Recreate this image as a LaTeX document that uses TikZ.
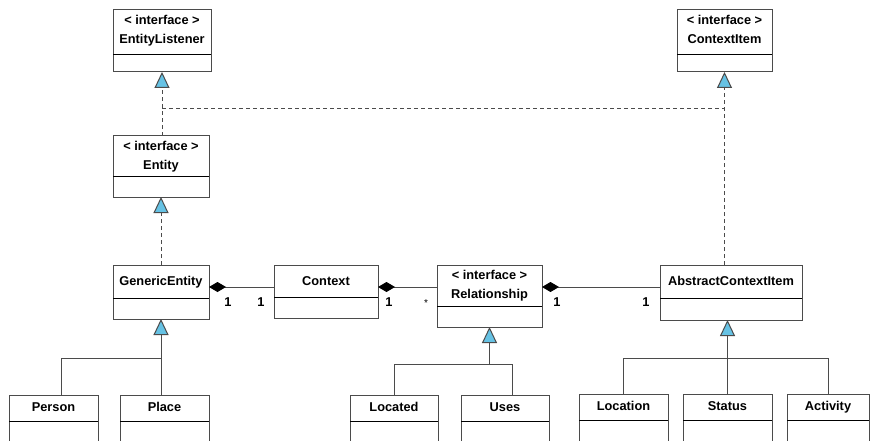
\documentclass[tikz,border=0pt]{standalone}
\usepackage{fontspec}
\setmainfont{Liberation Sans}
\usetikzlibrary{arrows.meta}
\definecolor{triblue}{RGB}{102,194,228}
\definecolor{lc}{RGB}{75,75,75}
\newcommand\mkclass[6]{% name, x1, y1, x2, y2, divider y
  \node[box, minimum width={#4-#2}, minimum height={#5-#3}] (#1) at (#2,#3) {};
  \draw[div] (#2,#6) -- (#4,#6);
}
\begin{document}
\begin{tikzpicture}[x=1pt,y=-1pt,
  box/.style={draw=lc, line width=1pt, rectangle, anchor=north west, inner sep=0pt, outer sep=0pt},
  div/.style={draw=black, line width=0.8pt},
  lbl/.style={font=\fontsize{12.8}{14}\selectfont\bfseries, inner sep=0pt, text height=9.5pt, text depth=3pt},
  conn/.style={draw=lc, line width=1pt},
  dline/.style={conn, dash pattern=on 4pt off 3pt},
  gen/.style={conn, -{Triangle[open, length=16pt, width=15pt, fill=triblue]}},
  comp/.style={conn, {Diamond[length=17pt, width=10pt, fill=black, color=black]}-}
]
\useasboundingbox (0,0) rectangle (870,441);
\clip (0,0) rectangle (870,441);
\fill[white] (0,0) rectangle (870,441);

% interfaces
\mkclass{el}{113}{10}{211}{72}{54}
\node[lbl] (el1) at (162,21) {< interface >};
\node[lbl] (el2) at (162,40) {EntityListener};
\mkclass{ci}{677}{10}{772}{72}{54}
\node[lbl] (ci1) at (724.5,21) {< interface >};
\node[lbl] (ci2) at (724.5,40) {ContextItem};
\mkclass{ent}{113}{136}{209}{197}{176}
\node[lbl] (ent1) at (161,147) {< interface >};
\node[lbl] (ent2) at (161,166) {Entity};
\mkclass{rel}{437}{265}{542}{327}{306}
\node[lbl] (rel1) at (489.5,276) {< interface >};
\node[lbl] (rel2) at (489.5,295) {Relationship};

% classes
\mkclass{ge}{113}{265}{209}{319}{298}
\node[lbl] (ge1) at (161,282) {GenericEntity};
\mkclass{ctx}{274}{265}{378}{318}{297}
\node[lbl] (ctx1) at (326,282) {Context};
\mkclass{aci}{660}{265}{802}{320}{298}
\node[lbl] (aci1) at (731,282) {AbstractContextItem};

\mkclass{person}{9}{395}{98}{460}{421}
\node[lbl] (person1) at (53.5,408) {Person};
\mkclass{place}{120}{395}{209}{460}{421}
\node[lbl] (place1) at (164.5,408) {Place};
\mkclass{located}{350}{395}{438}{460}{421}
\node[lbl] (located1) at (394,408) {Located};
\mkclass{uses}{461}{395}{549}{460}{421}
\node[lbl] (uses1) at (505,408) {Uses};
\mkclass{location}{579}{394}{668}{460}{420}
\node[lbl] (location1) at (623.5,407) {Location};
\mkclass{status}{683}{394}{772}{460}{420}
\node[lbl] (status1) at (727.5,407) {Status};
\mkclass{activity}{787}{394}{869}{460}{420}
\node[lbl] (activity1) at (828,407) {Activity};

% helper coordinates
\coordinate (hy) at (0,109);
\coordinate (cy) at (0,287);
\coordinate (gy) at (0,358);
\coordinate (ry) at (0,364);
\coordinate (pc) at (61,395);
\coordinate (uc) at (512,395);

% realizations (dashed)
\draw[dline] (el.south |- hy) -- (ci.south |- hy);
\draw[gen, dash pattern=on 4pt off 3pt] (el.south |- ent.north) -- (el.south);
\draw[gen, dash pattern=on 4pt off 3pt] (ci.south |- aci.north) -- (ci.south);
\draw[gen, dash pattern=on 4pt off 3pt] (ge.north) -- (ent.south);

% compositions
\draw[comp] (ge.east |- cy) -- (ctx.west |- cy);
\draw[comp] (ctx.east |- cy) -- (rel.west |- cy);
\draw[comp] (rel.east |- cy) -- (aci.west |- cy);
\node[lbl] (m1) at (228,303) {1};
\node[lbl] (m2) at (261,303) {1};
\node[lbl] (m3) at (389,303) {1};
\node[lbl, font=\fontsize{10}{12}\selectfont] (m4) at (426,303) {*};
\node[lbl] (m5) at (557,303) {1};
\node[lbl] (m6) at (646,303) {1};

% generalization trees
\draw[gen] (place.north -| ge.south) -- (ge.south);
\draw[conn] (pc) |- (ge.south |- gy);

\draw[gen] (rel.south |- ry) -- (rel.south);
\draw[conn] (located.north) |- (uc |- ry) -- (uc);

\draw[gen] (status.north) -- (status.north |- aci.south);
\draw[conn] (location.north) |- (activity.north |- gy) -- (activity.north);
\end{tikzpicture}
\end{document}
